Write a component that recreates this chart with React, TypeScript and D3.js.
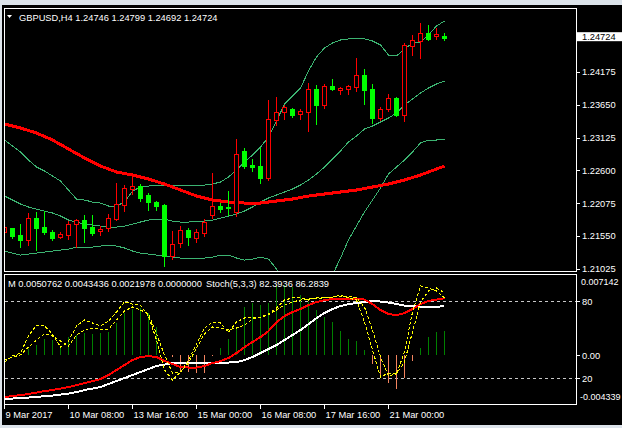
import React from 'react';
import * as d3 from 'd3';

const W = 622;
const H = 428;
const FONT = '"Liberation Sans", Arial, sans-serif';

// GBPUSD H4 candles (bar 0 = 9 Mar 2017 00:00)
const openP = [
  1.21615, 1.21679, 1.21567, 1.21487, 1.21839, 1.21695, 1.21615, 1.21535, 1.21567, 1.21743,
  1.21807, 1.21695, 1.21631, 1.21679, 1.21823, 1.22047, 1.22303, 1.22351, 1.22207, 1.22095,
  1.22047, 1.21231, 1.21439, 1.21647, 1.21519, 1.21599, 1.21887, 1.22031, 1.22015, 1.21935,
  1.22911, 1.22687, 1.22671, 1.22479, 1.23407, 1.23535, 1.23583, 1.23503, 1.23535, 1.23903,
  1.23647, 1.23951, 1.23887, 1.23903, 1.23935, 1.24127, 1.23903, 1.23439, 1.23583, 1.23759,
  1.23487, 1.24591, 1.24671, 1.24799, 1.24755, 1.24746,
];
const highP = [
  1.21775, 1.21679, 1.21743, 1.21919, 1.21935, 1.21951, 1.21647, 1.21615, 1.21791, 1.21823,
  1.21887, 1.21887, 1.21711, 1.21903, 1.22399, 1.22367, 1.22511, 1.22383, 1.22239, 1.22111,
  1.22063, 1.21631, 1.21711, 1.21679, 1.21663, 1.21823, 1.22559, 1.22079, 1.22271, 1.23103,
  1.22959, 1.22783, 1.22959, 1.23727, 1.23775, 1.23647, 1.23599, 1.23583, 1.23999, 1.23967,
  1.23983, 1.24063, 1.23935, 1.23967, 1.24399, 1.24223, 1.23983, 1.23615, 1.23823, 1.23775,
  1.24639, 1.24767, 1.24959, 1.24927, 1.24879, 1.24799,
];
const lowP = [
  1.21599, 1.21519, 1.21375, 1.21407, 1.21327, 1.21583, 1.21487, 1.21519, 1.21503, 1.21375,
  1.21455, 1.21567, 1.21567, 1.21631, 1.21807, 1.21951, 1.22223, 1.22111, 1.21967, 1.21967,
  1.21071, 1.21183, 1.21375, 1.21407, 1.21455, 1.21551, 1.21839, 1.21935, 1.21887, 1.21871,
  1.22639, 1.22591, 1.22399, 1.22447, 1.23327, 1.23423, 1.23455, 1.23423, 1.23231, 1.23343,
  1.23599, 1.23887, 1.23823, 1.23823, 1.23871, 1.23663, 1.23359, 1.23407, 1.23551, 1.23471,
  1.23391, 1.24447, 1.24399, 1.24687, 1.24703, 1.24692,
];
const closeP = [
  1.21695, 1.21551, 1.21487, 1.21839, 1.21679, 1.21615, 1.21519, 1.21583, 1.21743, 1.21807,
  1.21679, 1.21599, 1.21663, 1.21839, 1.22063, 1.22319, 1.22351, 1.22159, 1.22095, 1.22031,
  1.21231, 1.21423, 1.21647, 1.21535, 1.21615, 1.21775, 1.22031, 1.21983, 1.21999, 1.22863,
  1.22671, 1.22655, 1.22479, 1.23423, 1.23535, 1.23615, 1.23487, 1.23551, 1.23903, 1.23647,
  1.23951, 1.23903, 1.23919, 1.23951, 1.24127, 1.23887, 1.23439, 1.23583, 1.23759, 1.23487,
  1.24607, 1.24687, 1.24799, 1.24703, 1.24780, 1.24724,
];

// thick moving average
const maLine = [
  1.23343, 1.23311, 1.23279, 1.23239, 1.23199, 1.23143, 1.23087, 1.23015, 1.22943, 1.22871,
  1.22799, 1.22735, 1.22671, 1.22623, 1.22575, 1.22551, 1.22527, 1.22495, 1.22463, 1.22423,
  1.22383, 1.22335, 1.22287, 1.22239, 1.22191, 1.22159, 1.22127, 1.22111, 1.22095, 1.22087,
  1.22079, 1.22079, 1.22079, 1.22095, 1.22111, 1.22127, 1.22143, 1.22167, 1.22191, 1.22207,
  1.22223, 1.22239, 1.22255, 1.22271, 1.22287, 1.22311, 1.22335, 1.22359, 1.22383, 1.22415,
  1.22447, 1.22487, 1.22527, 1.22575, 1.22623, 1.22671,
];

// bollinger bands
const bbUpper = [
  1.23087, 1.22991, 1.22895, 1.22767, 1.22655, 1.22591, 1.22511, 1.22431, 1.22287, 1.22143,
  1.22127, 1.22095, 1.22079, 1.22031, 1.22031, 1.22095, 1.22271, 1.22335, 1.22351, 1.22367,
  1.22367, 1.22367, 1.22367, 1.22367, 1.22367, 1.22367, 1.22383, 1.22415, 1.22495, 1.22607,
  1.22735, 1.22847, 1.22975, 1.23135, 1.23391, 1.23663, 1.23791, 1.23919, 1.24191, 1.24415,
  1.24559, 1.24639, 1.24687, 1.24703, 1.24703, 1.24703, 1.24671, 1.24607, 1.24447, 1.24431,
  1.24543, 1.24639, 1.24655, 1.24767, 1.24911, 1.24991,
];
const bbMiddle = [
  1.22191, 1.22127, 1.22063, 1.22015, 1.21983, 1.21951, 1.21919, 1.21871, 1.21807, 1.21775,
  1.21743, 1.21727, 1.21711, 1.21695, 1.21695, 1.21711, 1.21743, 1.21775, 1.21807, 1.21823,
  1.21823, 1.21791, 1.21775, 1.21775, 1.21791, 1.21791, 1.21807, 1.21839, 1.21871, 1.21903,
  1.21951, 1.22015, 1.22095, 1.22159, 1.22207, 1.22255, 1.22303, 1.22367, 1.22447, 1.22543,
  1.22655, 1.22783, 1.22911, 1.23055, 1.23151, 1.23263, 1.23311, 1.23375, 1.23439, 1.23519,
  1.23647, 1.23743, 1.23839, 1.23919, 1.23983, 1.24031,
];
const bbLower = [
  1.21311, 1.21279, 1.21247, 1.21263, 1.21279, 1.21295, 1.21311, 1.21327, 1.21343, 1.21375,
  1.21375, 1.21375, 1.21391, 1.21407, 1.21391, 1.21359, 1.21311, 1.21279, 1.21263, 1.21247,
  1.21231, 1.21215, 1.21199, 1.21199, 1.21199, 1.21199, 1.21215, 1.21247, 1.21247, 1.21199,
  1.21167, 1.21183, 1.21215, 1.21183, 1.21023, 1.20847, 1.20815, 1.20815, 1.20703, 1.20671,
  1.20751, 1.20927, 1.21199, 1.21487, 1.21711, 1.21935, 1.22127, 1.22319, 1.22543, 1.22655,
  1.22767, 1.22895, 1.23039, 1.23087, 1.23087, 1.23103,
];

// MACD window
const macdMain = [
  -0.003720, -0.003631, -0.003542, -0.003453, -0.003320, -0.003186, -0.003097, -0.002964, -0.002830, -0.002652,
  -0.002474, -0.002296, -0.002118, -0.001762, -0.001317, -0.000872, -0.000427, -0.000160, -0.000071, -0.000160,
  -0.000516, -0.000783, -0.001050, -0.001095, -0.001095, -0.000961, -0.000694, -0.000516, -0.000249, 0.000196,
  0.000730, 0.001175, 0.001620, 0.002154, 0.002955, 0.003489, 0.003845, 0.004112, 0.004468, 0.004735,
  0.004913, 0.005002, 0.005046, 0.005046, 0.005046, 0.004957, 0.004557, 0.004023, 0.003667, 0.003578,
  0.003756, 0.004112, 0.004557, 0.004824, 0.004957, 0.0050762,
];
const macdSignal = [
  -0.003898, -0.003854, -0.003809, -0.003765, -0.003720, -0.003631, -0.003587, -0.003498, -0.003409, -0.003275,
  -0.003097, -0.002964, -0.002830, -0.002563, -0.002296, -0.002029, -0.001762, -0.001495, -0.001228, -0.000961,
  -0.000828, -0.000694, -0.000694, -0.000694, -0.000694, -0.000694, -0.000694, -0.000694, -0.000650, -0.000605,
  -0.000427, -0.000160, 0.000196, 0.000552, 0.000908, 0.001353, 0.001798, 0.002243, 0.002777, 0.003311,
  0.003756, 0.004112, 0.004379, 0.004557, 0.004646, 0.004735, 0.004824, 0.004779, 0.004690, 0.004557,
  0.004423, 0.004379, 0.004334, 0.004334, 0.004334, 0.0043436,
];
const macdHist = [
  0.00005, 0.00005, 0.00005, 0.000525, 0.000908, 0.001415, 0.001353, 0.000614, 0.001646, 0.001798,
  0.001949, 0.001887, 0.001949, 0.002091, 0.002839, 0.003729, 0.004085, 0.004174, 0.003729, 0.002536,
  0.0001, -0.00016, -0.00138, -0.00147, -0.00161, -0.00158, -0.0001, 0.000614, 0.001415, 0.002394,
  0.004316, 0.004619, 0.004468, 0.004619, 0.006248, 0.006248, 0.006096, 0.005358, 0.004761, 0.004023,
  0.003426, 0.002982, 0.002181, 0.001415, 0.001264, 0.000463, -0.000783, -0.00194, -0.002447, -0.003035,
  -0.002056, -0.000516, 0.000614, 0.001593, 0.002091, 0.0021978,
];

// Stoch(5,3,3)
const stochK = [
  32.6, 37.2, 39.5, 52.7, 61.2, 60.5, 54.3, 44.2, 48.8, 60.5,
  65.1, 62.8, 60.5, 64.3, 71.3, 79.1, 77.5, 76.7, 68.2, 49.6,
  26.4, 18.6, 24.8, 34.1, 46.5, 58.9, 63.6, 62.8, 55.8, 63.6,
  66.7, 67.4, 67.4, 69.8, 74.4, 80.6, 82.2, 82.2, 80.6, 82.2,
  82.9, 82.9, 84.5, 82.2, 80.6, 63.6, 41.9, 20.9, 24.0, 23.3,
  40.3, 71.3, 91.5, 89.9, 87.6, 82.3936,
];
const stochD = [
  34.1, 36.4, 38.0, 44.2, 49.6, 54.3, 52.7, 48.8, 45.0, 53.5,
  57.4, 58.9, 58.1, 58.1, 65.1, 72.1, 75.2, 72.9, 69.8, 54.3,
  38.0, 24.0, 24.8, 31.8, 43.4, 54.3, 59.7, 58.9, 57.4, 58.9,
  61.2, 65.9, 67.4, 69.0, 72.9, 76.7, 79.1, 80.6, 81.4, 81.4,
  82.2, 82.9, 83.7, 83.7, 82.2, 75.2, 57.4, 36.4, 21.7, 23.3,
  32.6, 55.8, 79.1, 87.6, 89.9, 86.2839,
];

const priceTicks = [1.24175, 1.2365, 1.23125, 1.226, 1.22075, 1.2155, 1.21025];
const stochLevels = [80, 20];
const macdMax = 0.007142;
const macdMin = -0.004339;
const timeTicks = [
  { bar: 0, label: '9 Mar 2017' },
  { bar: 8, label: '10 Mar 08:00' },
  { bar: 16, label: '13 Mar 16:00' },
  { bar: 24, label: '15 Mar 00:00' },
  { bar: 32, label: '16 Mar 08:00' },
  { bar: 40, label: '17 Mar 16:00' },
  { bar: 48, label: '21 Mar 00:00' },
];

const title = 'GBPUSD,H4  1.24746 1.24799 1.24692 1.24724';
const subTitle = 'M 0.0050762 0.0043436 0.0021978 0.0000000';
const stochTitle = 'Stoch(5,3,3) 82.3936 86.2839';

const BULL = '#ff0000';
const BEAR = '#00ff00';
const BAND = '#3cb371';

const App = () => {
    const n = closeP.length;
    // pixel column of each bar
    const col = d3.scaleLinear().domain([0, n - 1]).range([4, 444]);
    const cx = (i: number) => Math.round(col(i)) + 0.5;

    const yP = d3.scaleLinear().domain([1.21025, 1.24175]).range([268.9, 72]);
    const yM = d3.scaleLinear().domain([macdMin, macdMax]).range([404, 275]);
    const yS = d3.scaleLinear().domain([0, 100]).range([404, 275]);

    const mkLine = (scale: any) =>
        d3.line<number>().x((_, i) => cx(i)).y((d) => scale(d));

    const priceLine = mkLine(yP);
    const macdLine = mkLine(yM);
    const stochLine = mkLine(yS);

    const candles = closeP.map((c, i) => {
        const o = openP[i];
        const bull = c >= o;
        const x = cx(i);
        const yh = Math.round(yP(highP[i]));
        const yl = Math.round(yP(lowP[i]));
        const top = Math.round(yP(Math.max(o, c)));
        const bot = Math.round(yP(Math.min(o, c)));
        if (bull) {
            return (
                <g key={i} stroke={BULL}>
                    <line x1={x} x2={x} y1={yh} y2={top} />
                    <line x1={x} x2={x} y1={bot} y2={yl + 1} />
                    {bot - top >= 1 ? (
                        <rect x={x - 2} y={top + 0.5} width={4} height={bot - top} fill="#000" />
                    ) : (
                        <line x1={x - 2.5} x2={x + 2.5} y1={top + 0.5} y2={top + 0.5} />
                    )}
                </g>
            );
        }
        return (
            <g key={i}>
                <line x1={x} x2={x} y1={yh} y2={yl + 1} stroke={BEAR} />
                <rect x={x - 2.5} y={top} width={5} height={Math.max(1, bot - top + 1)} fill={BEAR} />
            </g>
        );
    });

    const last = closeP[n - 1];
    const lastY = yP(last);
    const zeroY = yM(0);

    return (
        <div style={{ position: 'absolute', left: 0, top: 0, width: W, height: H }}>
            <svg width={W} height={H} style={{ display: 'block' }} fontFamily={FONT} fontSize={9.3}>
                <defs>
                    <clipPath id="mainClip">
                        <rect x={5} y={9} width={571} height={262} />
                    </clipPath>
                    <clipPath id="subClip">
                        <rect x={5} y={275} width={571} height={129} />
                    </clipPath>
                </defs>
                <rect x={0} y={0} width={W} height={H} fill="#dce3ea" />
                <rect x={2} y={5} width={W - 2} height={420} fill="#000" />

                {/* main window */}
                <g clipPath="url(#mainClip)" shapeRendering="crispEdges" fill="none">
                    {[bbUpper, bbMiddle, bbLower].map((b, k) => (
                        <path key={k} d={priceLine(b) || ''} stroke={BAND} strokeWidth={1} />
                    ))}
                    <path d={priceLine(maLine) || ''} stroke="#ff0000" strokeWidth={3} />
                    {candles}
                </g>
                <rect x={4.5} y={8.5} width={572} height={263} fill="none" stroke="#fff" />

                {/* sub window */}
                <g clipPath="url(#subClip)" shapeRendering="crispEdges" fill="none">
                    {stochLevels.map((l) => (
                        <line key={l} x1={5} x2={576} y1={Math.round(yS(l)) + 0.5} y2={Math.round(yS(l)) + 0.5}
                            stroke="#c8c8c8" strokeDasharray="3,3" />
                    ))}
                    {macdHist.map((v, i) => (
                        <line key={i} x1={cx(i)} x2={cx(i)} y1={zeroY} y2={yM(v)}
                            stroke={v >= 0 ? '#008000' : '#f4845f'} strokeWidth={1} />
                    ))}
                    <path d={macdLine(macdSignal) || ''} stroke="#ffffff" strokeWidth={2} />
                    <path d={macdLine(macdMain) || ''} stroke="#ff0000" strokeWidth={2} />
                    <path d={stochLine(stochD) || ''} stroke="#ffff00" strokeWidth={1} strokeDasharray="3,2" />
                    <path d={stochLine(stochK) || ''} stroke="#ffff00" strokeWidth={1} strokeDasharray="3,2" />
                </g>
                <rect x={4.5} y={274.5} width={572} height={130} fill="none" stroke="#fff" />

                {/* titles */}
                <path d="M7,15 L12,15 L9.5,18 Z" fill="#fff" />
                <text x={19} y={20.5} fill="#fff">{title}</text>
                <text x={8} y={286.5} fill="#fff">{subTitle}</text>
                <text x={206} y={286.5} fill="#fff">{stochTitle}</text>

                {/* price axis */}
                {priceTicks.map((t) => (
                    <g key={t}>
                        <line x1={577} x2={580} y1={Math.round(yP(t)) + 0.5} y2={Math.round(yP(t)) + 0.5} stroke="#fff" />
                        <text x={582} y={yP(t) + 3.3} fill="#fff">{t.toFixed(5)}</text>
                    </g>
                ))}
                <rect x={577} y={lastY - 5.5} width={45} height={9} fill="#fff" />
                <text x={582} y={lastY + 2} fill="#000">{last.toFixed(5)}</text>

                {/* sub axis */}
                <text x={581} y={yM(macdMax) + 10} fill="#fff" fontSize={9}>{macdMax.toFixed(6)}</text>
                <line x1={577} x2={580} y1={Math.round(zeroY) + 0.5} y2={Math.round(zeroY) + 0.5} stroke="#fff" />
                <text x={582} y={zeroY + 4} fill="#fff">0.00</text>
                {stochLevels.map((l) => (
                    <g key={l}>
                        <line x1={577} x2={580} y1={Math.round(yS(l)) + 0.5} y2={Math.round(yS(l)) + 0.5} stroke="#fff" />
                        <text x={582} y={yS(l) + 4} fill="#fff">{l}</text>
                    </g>
                ))}
                <text x={580} y={yM(macdMin) - 4} fill="#fff" fontSize={9}>{macdMin.toFixed(6)}</text>

                {/* time axis */}
                {timeTicks.map((t) => (
                    <g key={t.bar}>
                        <line x1={cx(t.bar)} x2={cx(t.bar)} y1={405} y2={409} stroke="#fff" />
                        <text x={cx(t.bar) + 1} y={418} fill="#fff">{t.label}</text>
                    </g>
                ))}
            </svg>
        </div>
    );
};

export default App;
